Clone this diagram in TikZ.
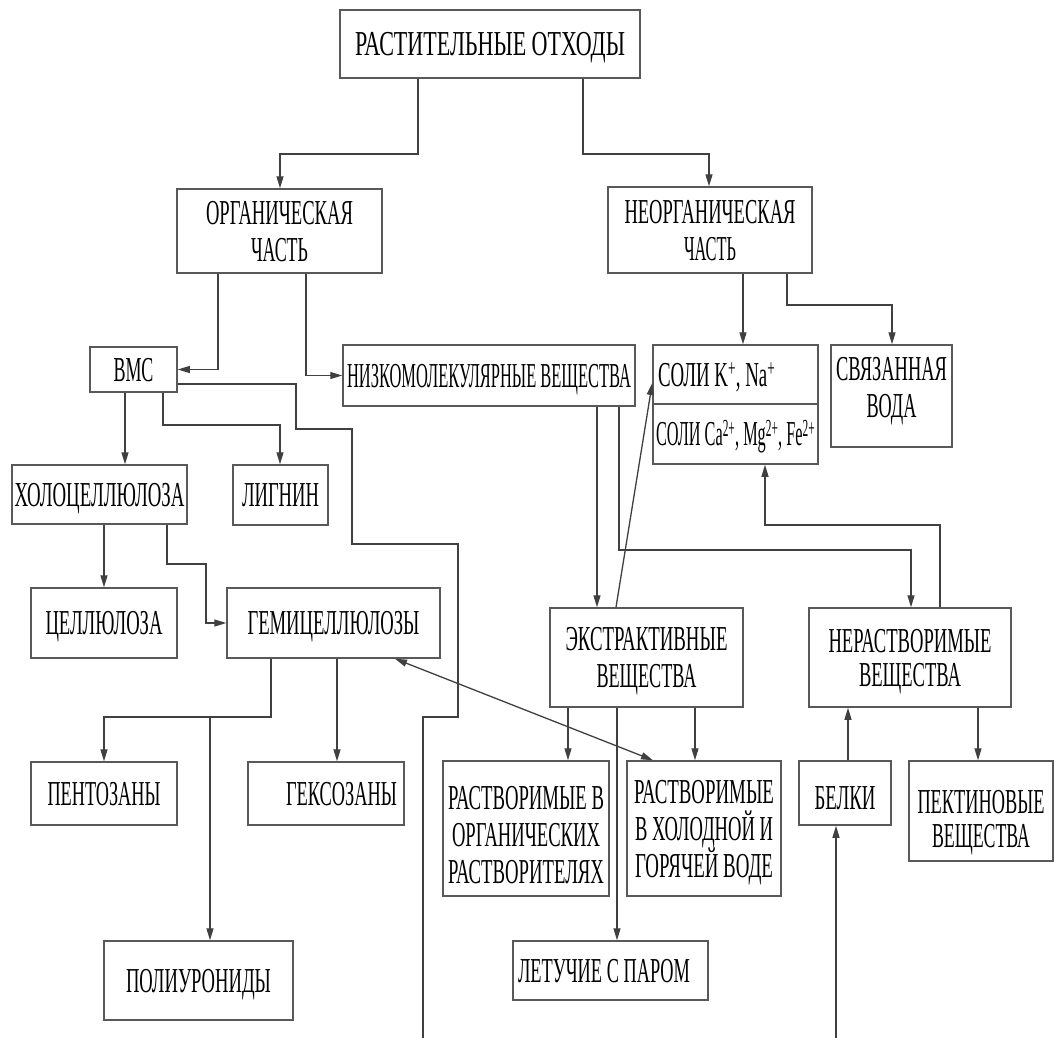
\documentclass[tikz,border=0pt]{standalone}
\usepackage{fontspec}
\usepackage{graphicx}
\setmainfont{Liberation Serif}
\usetikzlibrary{arrows.meta}

\newsavebox\flbox
\newlength\capht
\setlength\capht{23pt}
% one line of condensed capitals, squeezed horizontally to the width #1 (pt)
\newcommand\fl[2]{\sbox\flbox{#2}%
  \pgfmathsetmacro\flfac{#1/\the\wd\flbox}%
  \raisebox{0pt}[\capht][0pt]{\scalebox{\flfac}[1]{\usebox\flbox}}}
% extra depth below the last line / extra height above the first line
\newcommand\up[1]{\rule[-#1]{0pt}{#1}}
\newcommand\dn[1]{\rule{0pt}{\dimexpr\capht+#1\relax}}

\begin{document}
\begin{tikzpicture}[x=1pt,y=-1pt,
  bx/.style={draw=black!65, line width=1.5pt, inner sep=0pt, align=center,
    text=black, font=\fontsize{35}{37}\selectfont},
  sz/.style 2 args={minimum width=#1pt, minimum height=#2pt},
  arr/.style={draw=black!75, line width=1.3pt, -{Triangle[length=12pt,width=7pt]}},
  darr/.style={draw=black!75, line width=1.3pt,
    {Triangle[length=12pt,width=7pt]}-{Triangle[length=12pt,width=7pt]}}]

\useasboundingbox (0,0) rectangle (1055,1037);
\clip (0,0) rectangle (1055,1037);
\fill[white] (0,0) rectangle (1055,1037);

% ---- boxes ----
\node[bx, sz={300}{68}] (top) at (490,44) {\fl{270}{РАСТИТЕЛЬНЫЕ ОТХОДЫ}};
\node[bx, sz={205}{84}] (org) at (279.5,231) {\fl{147}{ОРГАНИЧЕСКАЯ}\\\fl{57}{ЧАСТЬ}};
\node[bx, sz={204}{86}] (neorg) at (710,230) {\fl{171}{НЕОРГАНИЧЕСКАЯ}\\\fl{52}{ЧАСТЬ}};
\node[bx, sz={87}{45}] (vmc) at (133.5,369.5) {\fl{40}{ВМС}};
\node[bx, sz={292}{61}] (nizk) at (489,375.5) {\fl{284}{НИЗКОМОЛЕКУЛЯРНЫЕ ВЕЩЕСТВА}};
\node[bx, sz={165}{59}] (saltK) at (735.5,374.5)
  {\fl{117}{СОЛИ K\textsuperscript{+}, Na\textsuperscript{+}}\kern38pt};
\node[bx, sz={165}{60}] (saltCa) at (735.5,434)
  {\fl{159}{СОЛИ Ca\textsuperscript{2+}, Mg\textsuperscript{2+}, Fe\textsuperscript{2+}}};
\node[bx, sz={121}{102}] (water) at (891.5,396) {\fl{111}{СВЯЗАННАЯ}\\\fl{50}{ВОДА}\up{17pt}};
\node[bx, sz={175}{59}] (holo) at (99.5,494.5) {\fl{170}{ХОЛОЦЕЛЛЮЛОЗА}};
\node[bx, sz={95}{60}] (lignin) at (280.5,495) {\fl{77}{ЛИГНИН}};
\node[bx, sz={146}{70}] (cell) at (104,623) {\fl{117}{ЦЕЛЛЮЛОЗА}};
\node[bx, sz={213}{70}] (gemi) at (333.5,623) {\fl{172}{ГЕМИЦЕЛЛЮЛОЗЫ}};
\node[bx, sz={146}{63}] (pento) at (104,793.5) {\fl{113}{ПЕНТОЗАНЫ}};
\node[bx, sz={156}{63}] (geks) at (326,793.5) {\kern31pt\fl{111}{ГЕКСОЗАНЫ}};
\node[bx, sz={189}{79}] (poly) at (198.5,980.5) {\fl{145}{ПОЛИУРОНИДЫ}};
\node[bx, sz={193}{99}] (ekstr) at (646.5,657.5) {\fl{162}{ЭКСТРАКТИВНЫЕ}\\\fl{100}{ВЕЩЕСТВА}};
\node[bx, sz={166}{135}] (orgsol) at (526,828.5)
  {\dn{12pt}\fl{156}{РАСТВОРИМЫЕ В}\\\fl{148}{ОРГАНИЧЕСКИХ}\\\fl{156}{РАСТВОРИТЕЛЯХ}};
\node[bx, sz={154}{135}] (holod) at (704,828.5)
  {\fl{140}{РАСТВОРИМЫЕ}\\\fl{138}{В ХОЛОДНОЙ И}\\\fl{138}{ГОРЯЧЕЙ ВОДЕ}};
\node[bx, sz={195}{59}] (let) at (610.5,970.5) {\fl{172}{ЛЕТУЧИЕ С ПАРОМ}\kern13pt};
\node[bx, sz={202}{99}, font=\fontsize{35}{34}\selectfont] (ner) at (910,657.5)
  {\fl{163}{НЕРАСТВОРИМЫЕ}\\\fl{102}{ВЕЩЕСТВА}};
\node[bx, sz={92}{64}] (belki) at (845,793) {\dn{9pt}\fl{61}{БЕЛКИ}};
\node[bx, sz={144}{100}, font=\fontsize{35}{34}\selectfont] (pekt) at (981,811)
  {\dn{15pt}\fl{127}{ПЕКТИНОВЫЕ}\\\fl{98}{ВЕЩЕСТВА}};

\coordinate (pj) at (210,717);

% ---- connectors ----
\draw[arr] (top.south -| 418,0) |- (280,154) -- (org.north -| 280,0);
\draw[arr] (top.south -| 583,0) |- (709,154) -- (neorg.north -| 709,0);
\draw[arr] (org.south -| 218,0) |- (vmc.east);
\draw[arr] (org.south -| 306,0) |- (nizk.west);
\draw[arr] (neorg.south -| 743,0) -- (saltK.north -| 743,0);
\draw[arr] (neorg.south -| 787,0) |- (892,305) -- (water.north -| 892,0);
\draw[arr] (vmc.south -| 125,0) -- (holo.north -| 125,0);
\draw[arr] (vmc.south -| 163,0) |- (280,425) -- (lignin.north -| 280,0);
\draw[arr] (vmc.east |- 0,384) -- (296,384) -- (296,429) -- (352,429) -- (352,544)
  -- (458,544) -- (458,717) -- (423,717) -- (423,1060) -- (836,1060)
  -- (belki.south -| 836,0);
\draw[arr] (holo.south -| 104,0) -- (cell.north -| 104,0);
\draw[arr] (holo.south -| 167,0) |- (206,564) |- (gemi.west);
\draw[arr] (gemi.south -| 271,0) |- (104,717) -- (pento.north -| 104,0);
\draw[arr] (pj) -- (poly.north -| 210,0);
\draw[arr] (gemi.south -| 337,0) -- (geks.north -| 337,0);
\draw[darr] (gemi.south -| 395,0) -- (holod.north -| 653,0);
\draw[arr] (nizk.south -| 597,0) -- (ekstr.north -| 597,0);
\draw[arr] (nizk.south -| 619,0) |- (911,550) -- (ner.north -| 911,0);
\draw[arr] (ekstr.north -| 616,0) -- (saltK.west |- 0,383);
\draw[arr] (ner.north -| 940,0) |- (765,525) -- (saltCa.south -| 765,0);
\draw[arr] (ekstr.south -| 568,0) -- (orgsol.north -| 568,0);
\draw[arr] (ekstr.south -| 695,0) -- (holod.north -| 695,0);
\draw[arr] (ekstr.south -| 617,0) -- (let.north -| 617,0);
\draw[arr] (belki.north -| 848,0) -- (ner.south -| 848,0);
\draw[arr] (ner.south -| 978,0) -- (pekt.north -| 978,0);
\end{tikzpicture}
\end{document}
